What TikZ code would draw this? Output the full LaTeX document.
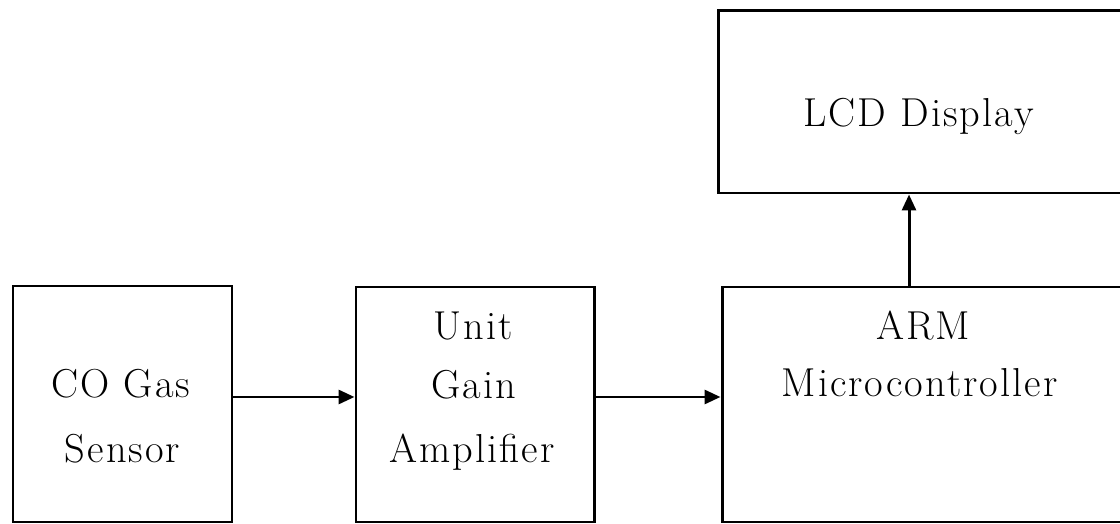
\documentclass[tikz,border=0pt]{standalone}
\usepackage{tikz}
\usepackage{fontspec}
\usetikzlibrary{arrows.meta}
\newfontfamily\blockfont{Latin Modern Roman}[LetterSpace=5]

\tikzset{
	block/.style={draw, line width=1.7pt, inner sep=0pt},
	lbl/.style={anchor=base, inner sep=0pt, font=\blockfont\fontsize{23}{28}\selectfont},
	flow/.style={line width=1.7pt, -{Triangle[length=3.2mm, width=2.8mm]}}
}

\begin{document}
\begin{tikzpicture}
			%%%%% START %%%%%
			
			\path[use as bounding box, clip] (0, 0) rectangle (22.4, 10.48);
			
			% blocks
			\node[block, minimum width=4.38cm, minimum height=4.72cm] (sensor) at (2.45, 2.40) {};
			\node[block, minimum width=4.76cm, minimum height=4.70cm] (amp) at (9.50, 2.39) {};
			\node[block, minimum width=8.16cm, minimum height=4.70cm] (arm) at (18.52, 2.39) {};
			\node[block, minimum width=8.24cm, minimum height=3.64cm] (lcd) at (18.48, 8.44) {};
			
			% text, one line at a time
			\node[lbl] (sensorA) at (2.42, 2.52) {CO Gas};
			\node[lbl] (sensorB) at (2.45, 1.22) {Sensor};
			
			\node[lbl] (ampA) at (9.46, 3.68) {Unit};
			\node[lbl] (ampB) at (9.48, 2.50) {Gain};
			\node[lbl] (ampC) at (9.44, 1.22) {Amplifier};
			
			\node[lbl] (armA) at (18.46, 3.68) {ARM};
			\node[lbl] (armB) at (18.39, 2.54) {Microcontroller};
			
			\node[lbl] (lcdA) at (18.37, 7.94) {LCD Display};
			
			% signal path
			\coordinate (rowy) at (0, 2.54);
			\coordinate (tap) at (18.18, 0);
			
			\draw[flow] (sensor.east |- rowy) -- (amp.west |- rowy);
			\draw[flow] (amp.east |- rowy) -- (arm.west |- rowy);
			\draw[flow] (arm.north -| tap) -- (lcd.south -| tap);
			
			%%%%% END %%%%%
\end{tikzpicture}
\end{document}
